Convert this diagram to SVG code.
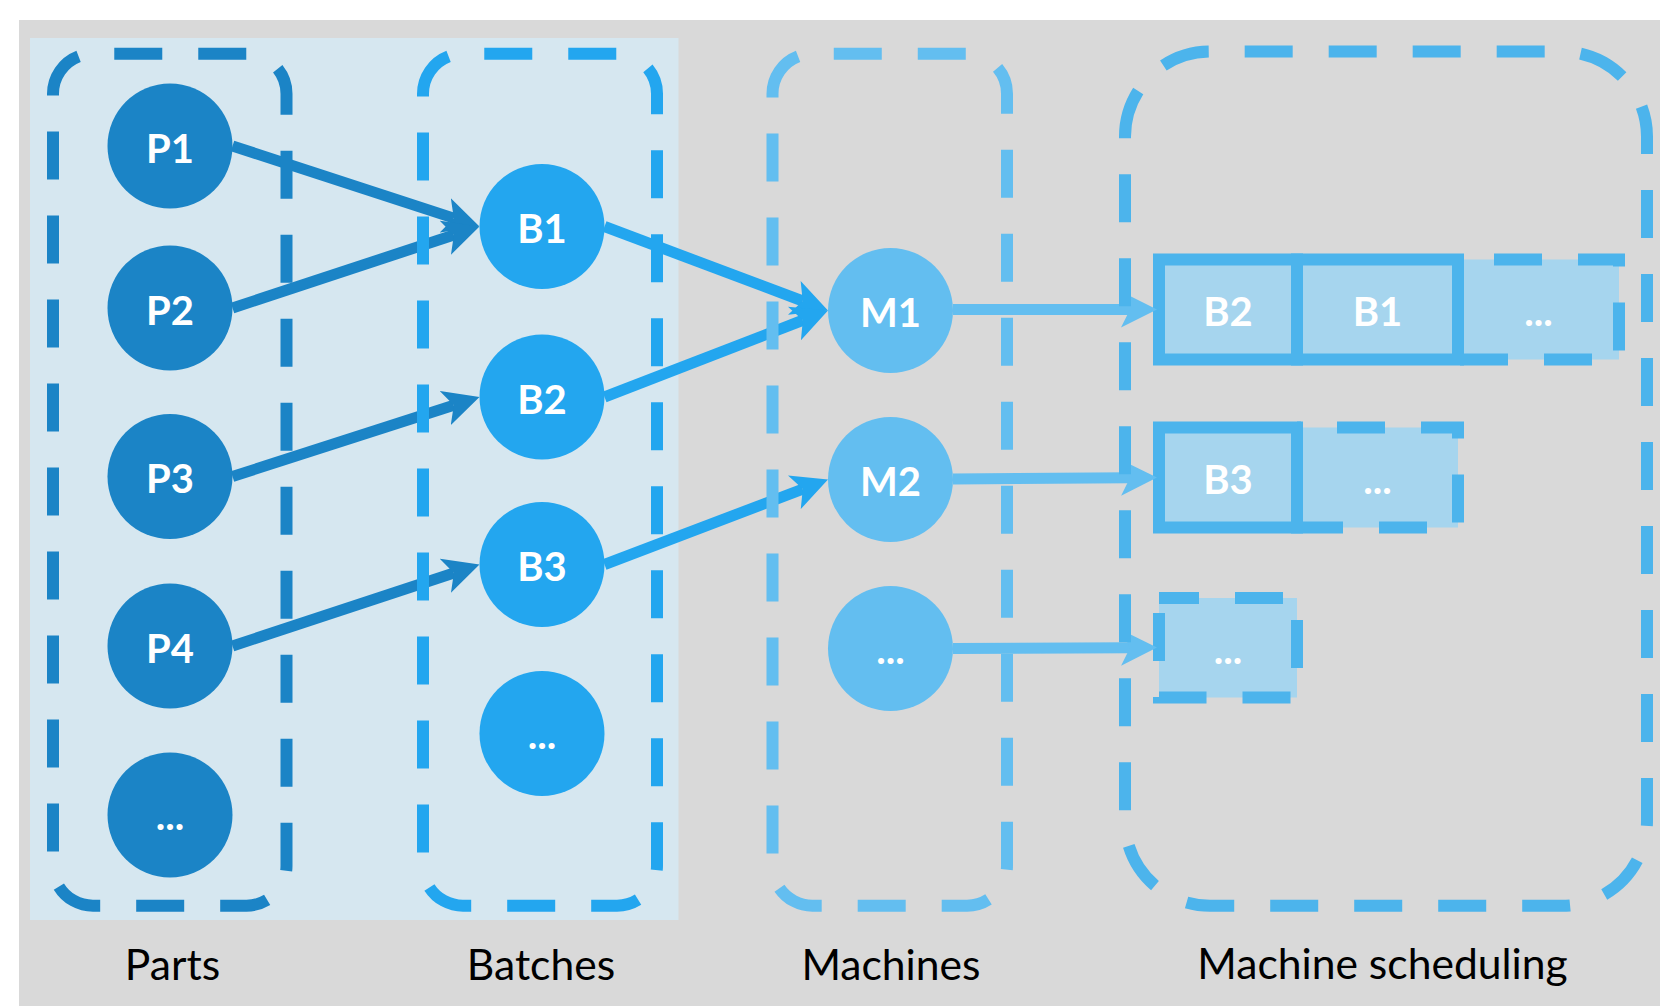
<svg xmlns="http://www.w3.org/2000/svg" width="1660" height="1006" viewBox="0 0 1660 1006">
<defs>
<style>
.nl{font-family:Lato,"Liberation Sans",sans-serif;font-size:40px;font-weight:bold;fill:#ffffff;text-anchor:middle}
.lab{font-family:Lato,"Liberation Sans",sans-serif;font-size:42.6px;fill:#000000;text-anchor:middle}
.cont{fill:none;stroke-width:12;stroke-dasharray:48 36}
.p{fill:#1b84c6}
.b{fill:#23a6ef}
.m{fill:#63bef0}
.box{fill:#a6d5ee;stroke:#4cb4ec;stroke-width:12}
.dbox{fill:#a6d5ee;stroke:#4cb4ec;stroke-width:12;stroke-dasharray:48 36}
.e{fill:none;stroke-width:11}
</style>
<marker id="ap" markerUnits="userSpaceOnUse" markerWidth="36" markerHeight="36" viewBox="0 0 36 36" refX="9" refY="18" orient="auto"><path d="M0,0 L36,18 L0,36 L9,18 Z" fill="#1b84c6"/></marker>
<marker id="ab" markerUnits="userSpaceOnUse" markerWidth="36" markerHeight="36" viewBox="0 0 36 36" refX="9" refY="18" orient="auto"><path d="M0,0 L36,18 L0,36 L9,18 Z" fill="#23a6ef"/></marker>
<marker id="am" markerUnits="userSpaceOnUse" markerWidth="36" markerHeight="36" viewBox="0 0 36 36" refX="9" refY="18" orient="auto"><path d="M0,0 L36,18 L0,36 L9,18 Z" fill="#63bef0"/></marker>
</defs>
<rect x="19" y="20" width="1641" height="986" fill="#d9d9d9"/>
<rect x="30" y="38" width="648.5" height="882" fill="#d6e7f0"/>

<g id="sched-row1-more"><rect class="dbox" x="1458" y="259.5" width="161" height="100" stroke-dashoffset="48"/><text class="nl" x="1538.5" y="326">...</text></g>
<g id="sched-row1-b2"><rect class="box" x="1159" y="259.5" width="138" height="100"/><text class="nl" x="1228" y="326">B2</text></g>
<g id="sched-row1-b1"><rect class="box" x="1297" y="259.5" width="161" height="100"/><text class="nl" x="1377.5" y="326">B1</text></g>
<g id="sched-row2-more"><rect class="dbox" x="1297" y="427.5" width="161" height="100" stroke-dashoffset="44"/><text class="nl" x="1377.5" y="494">...</text></g>
<g id="sched-row2-b3"><rect class="box" x="1159" y="427.5" width="138" height="100"/><text class="nl" x="1228" y="494">B3</text></g>
<g id="sched-row3-more"><rect class="dbox" x="1159" y="598" width="138" height="99.5" stroke-dashoffset="8"/><text class="nl" x="1228" y="664">...</text></g>

<g id="connectors">
<path class="e" stroke="#1b84c6" marker-end="url(#ap)" d="M232.5,146 L453.83,218.13"/>
<path class="e" stroke="#1b84c6" marker-end="url(#ap)" d="M232.5,308 L453.86,234.96"/>
<path class="e" stroke="#1b84c6" marker-end="url(#ap)" d="M232.5,476.5 L453.8,405.27"/>
<path class="e" stroke="#1b84c6" marker-end="url(#ap)" d="M232.5,646 L453.86,572.96"/>
<path class="e" stroke="#23a6ef" marker-end="url(#ab)" d="M604.5,226.5 L802.73,301"/>
<path class="e" stroke="#23a6ef" marker-end="url(#ab)" d="M604.5,397 L802.82,320.25"/>
<path class="e" stroke="#23a6ef" marker-end="url(#ab)" d="M604.5,564.5 L802.76,489.1"/>
<path class="e" stroke="#63bef0" marker-end="url(#am)" d="M953,309.5 L1130,309.5"/>
<path class="e" stroke="#63bef0" marker-end="url(#am)" d="M953,479 L1130,477.8"/>
<path class="e" stroke="#63bef0" marker-end="url(#am)" d="M953,648.5 L1130,647.7"/>
</g>

<g id="group-parts"><path class="cont" stroke="#1b84c6" d="M53,93.7 A40,40 0 0 1 93,53.7 L246.5,53.7 A40,40 0 0 1 286.5,93.7 L286.5,865.7 A40,40 0 0 1 246.5,905.7 L93,905.7 A40,40 0 0 1 53,865.7 Z"/></g>
<g id="group-batches"><path class="cont" stroke="#23a6ef" d="M423,93.7 A40,40 0 0 1 463,53.7 L617,53.7 A40,40 0 0 1 657,93.7 L657,865.7 A40,40 0 0 1 617,905.7 L463,905.7 A40,40 0 0 1 423,865.7 Z"/></g>
<g id="group-machines"><path class="cont" stroke="#63bef0" d="M772.5,93.7 A40,40 0 0 1 812.5,53.7 L967,53.7 A40,40 0 0 1 1007,93.7 L1007,865.7 A40,40 0 0 1 967,905.7 L812.5,905.7 A40,40 0 0 1 772.5,865.7 Z"/></g>
<g id="group-scheduling"><path class="cont" stroke="#4cb4ec" d="M1125,136.5 A85,85 0 0 1 1210,51.5 L1562,51.5 A85,85 0 0 1 1647,136.5 L1647,820.8 A85,85 0 0 1 1562,905.8 L1210,905.8 A85,85 0 0 1 1125,820.8 Z"/></g>

<g id="P1"><circle class="p" cx="170" cy="146" r="62.5"/><text class="nl" x="170" y="162.5">P1</text></g>
<g id="P2"><circle class="p" cx="170" cy="308" r="62.5"/><text class="nl" x="170" y="324.5">P2</text></g>
<g id="P3"><circle class="p" cx="170" cy="476.5" r="62.5"/><text class="nl" x="170" y="493">P3</text></g>
<g id="P4"><circle class="p" cx="170" cy="646" r="62.5"/><text class="nl" x="170" y="662.5">P4</text></g>
<g id="P5"><circle class="p" cx="170" cy="815" r="62.5"/><text class="nl" x="170" y="830">...</text></g>

<g id="B1"><circle class="b" cx="542" cy="226.5" r="62.5"/><text class="nl" x="542" y="243">B1</text></g>
<g id="B2"><circle class="b" cx="542" cy="397" r="62.5"/><text class="nl" x="542" y="413.5">B2</text></g>
<g id="B3"><circle class="b" cx="542" cy="564.5" r="62.5"/><text class="nl" x="542" y="581">B3</text></g>
<g id="B4"><circle class="b" cx="542" cy="733.5" r="62.5"/><text class="nl" x="542" y="748.5">...</text></g>

<g id="M1"><circle class="m" cx="890.5" cy="310.5" r="62.5"/><text class="nl" x="890.5" y="327">M1</text></g>
<g id="M2"><circle class="m" cx="890.5" cy="479.5" r="62.5"/><text class="nl" x="890.5" y="496">M2</text></g>
<g id="M3"><circle class="m" cx="890.5" cy="648.5" r="62.5"/><text class="nl" x="890.5" y="663.5">...</text></g>

<g id="labels">
<text class="lab" x="172.5" y="980">Parts</text>
<text class="lab" x="541" y="980">Batches</text>
<text class="lab" x="891" y="980">Machines</text>
<text class="lab" x="1382.5" y="979">Machine scheduling</text>
</g>
</svg>
